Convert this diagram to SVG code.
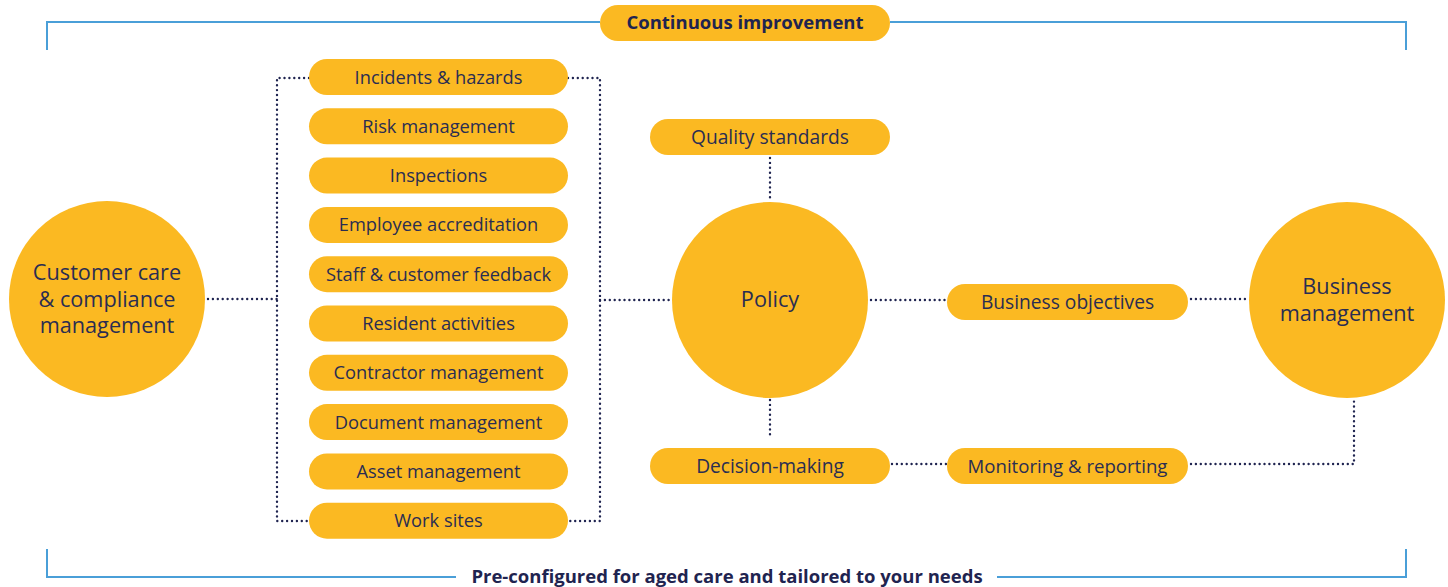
<svg xmlns="http://www.w3.org/2000/svg" width="1448" height="587" viewBox="0 0 1448 587">
<style>
.pill{fill:#fbb922}
.circ{fill:#fbb922}
.t{font-family:"Open Sans","Noto Sans","Liberation Sans",sans-serif;font-size:18.3px;fill:#2a2d52;text-anchor:middle;dominant-baseline:central}
.t2{font-family:"Open Sans","Noto Sans","Liberation Sans",sans-serif;font-size:19.2px;fill:#2a2d52;text-anchor:middle;dominant-baseline:central}
.tb{font-family:"Open Sans","Noto Sans","Liberation Sans",sans-serif;font-size:18.5px;font-weight:bold;fill:#1f2450;text-anchor:middle}
.tc{font-family:"Open Sans","Noto Sans","Liberation Sans",sans-serif;font-size:21.7px;fill:#2a2d52;text-anchor:middle}
.blue{fill:none;stroke:#4a9fd8;stroke-width:2}
.dot{fill:none;stroke:#1f2450;stroke-width:2.4;stroke-linecap:round;stroke-dasharray:0 4.9}
</style>
<g id="frame">
<path class="blue" d="M47 50 V22 H600 M890 22 H1406 V50"/>
<path class="blue" d="M47 549 V577 H456 M997 577 H1406 V549"/>
<text class="tb" x="727" y="583">Pre-configured for aged care and tailored to your needs</text>
</g>
<g id="continuous-improvement">
<rect class="pill" x="600" y="5" width="290" height="36" rx="18"/>
<text class="tb" x="745" y="29">Continuous improvement</text>
</g>
<g id="connectors">
<path class="dot" d="M208 299 H277"/>
<path class="dot" d="M309 78 H277 V521 H309"/>
<path class="dot" d="M568 78 H600 V521 H568"/>
<path class="dot" d="M600 300 H671"/>
<path class="dot" d="M770 158 V201"/>
<path class="dot" d="M770 400 V439"/>
<path class="dot" d="M871 300 H947"/>
<path class="dot" d="M1191 299 H1249"/>
<path class="dot" d="M892 464 H947"/>
<path class="dot" d="M1191 464 H1354 V400"/>
</g>
<g id="customer-care">
<circle class="circ" cx="107" cy="299" r="98"/>
<text class="tc" x="107" y="280"><tspan x="107">Customer care</tspan><tspan x="107" dy="26.5">&amp; compliance</tspan><tspan x="107" dy="26.5">management</tspan></text>
</g>
<g id="incidents"><rect class="pill" x="309" y="59" width="259" height="36" rx="18"/><text class="t" x="438.5" y="76">Incidents &amp; hazards</text></g>
<g id="risk"><rect class="pill" x="309" y="108.3" width="259" height="36" rx="18"/><text class="t" x="438.5" y="125.3">Risk management</text></g>
<g id="inspections"><rect class="pill" x="309" y="157.6" width="259" height="36" rx="18"/><text class="t" x="438.5" y="174.6">Inspections</text></g>
<g id="employee"><rect class="pill" x="309" y="206.9" width="259" height="36" rx="18"/><text class="t" x="438.5" y="223.9">Employee accreditation</text></g>
<g id="feedback"><rect class="pill" x="309" y="256.2" width="259" height="36" rx="18"/><text class="t" x="438.5" y="273.2">Staff &amp; customer feedback</text></g>
<g id="resident"><rect class="pill" x="309" y="305.5" width="259" height="36" rx="18"/><text class="t" x="438.5" y="322.5">Resident activities</text></g>
<g id="contractor"><rect class="pill" x="309" y="354.8" width="259" height="36" rx="18"/><text class="t" x="438.5" y="371.8">Contractor management</text></g>
<g id="document"><rect class="pill" x="309" y="404.1" width="259" height="36" rx="18"/><text class="t" x="438.5" y="421.1">Document management</text></g>
<g id="asset"><rect class="pill" x="309" y="453.4" width="259" height="36" rx="18"/><text class="t" x="438.5" y="470.4">Asset management</text></g>
<g id="worksites"><rect class="pill" x="309" y="502.7" width="259" height="36" rx="18"/><text class="t" x="438.5" y="519.7">Work sites</text></g>
<g id="quality"><rect class="pill" x="650" y="119" width="240" height="36" rx="18"/><text class="t2" x="770" y="136">Quality standards</text></g>
<g id="policy">
<circle class="circ" cx="770" cy="300" r="98"/>
<text class="tc" x="770" y="307">Policy</text>
</g>
<g id="business-objectives"><rect class="pill" x="947" y="284" width="241" height="36" rx="18"/><text class="t2" x="1067.5" y="301">Business objectives</text></g>
<g id="decision"><rect class="pill" x="650" y="448" width="240" height="36" rx="18"/><text class="t2" x="770" y="465">Decision-making</text></g>
<g id="monitoring"><rect class="pill" x="947" y="448" width="241" height="36" rx="18"/><text class="t2" x="1067.5" y="465" style="font-size:18.6px">Monitoring &amp; reporting</text></g>
<g id="business-management">
<circle class="circ" cx="1347" cy="300" r="98"/>
<text class="tc" x="1347" y="294"><tspan x="1347">Business</tspan><tspan x="1347" dy="26.5">management</tspan></text>
</g>
</svg>
